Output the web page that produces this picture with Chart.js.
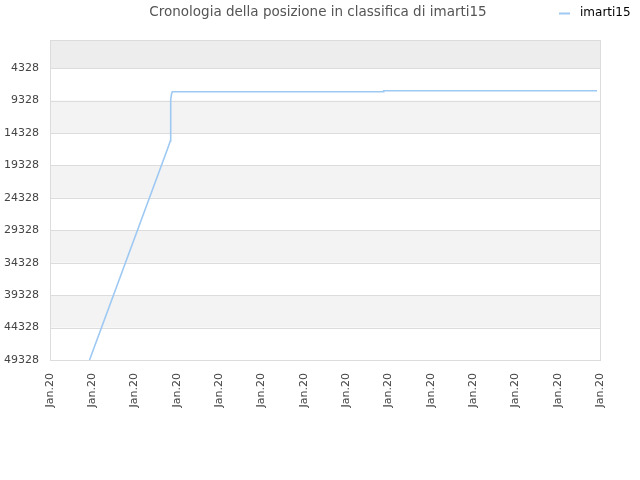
<!DOCTYPE html>
<html>
<head>
<meta charset="utf-8">
<script src="https://cdn.jsdelivr.net/npm/chart.js@4/dist/chart.umd.min.js"></script>
<style>
    html, body { margin: 0; padding: 0; background: #ffffff; }
    #wrap { width: 640px; height: 480px; }
</style>
</head>
<body>
<div id="wrap"><canvas id="chart" width="640" height="480"></canvas></div>
<script>
const chartTitle = 'Cronologia della posizione in classifica di imarti15';
const seriesName = 'imarti15';

// x-axis categories (one per tick, 0..13)
const xLabels = ['Jan.20', 'Jan.20', 'Jan.20', 'Jan.20', 'Jan.20', 'Jan.20', 'Jan.20',
    'Jan.20', 'Jan.20', 'Jan.20', 'Jan.20', 'Jan.20', 'Jan.20', 'Jan.20'];

// rank ticks on the reversed y axis
const yTicks = [4328, 9328, 14328, 19328, 24328, 29328, 34328, 39328, 44328, 49328];
const yMin = 1;
const yMax = 49328;

// positions (x in tick units)
const pointX = [0.934, 2.777, 2.843, 2.853, 2.872, 2.891, 7.878, 7.888, 12.929];
const pointRank = [49328, 16803, 15570, 9250, 8325, 7986, 7986, 7816, 7816];

const lineColor = '#9ec9f3';

const bandsPlugin = {
    id: 'bands',
    beforeDatasetsDraw(chart) {
        const { ctx, chartArea } = chart;
        const y = chart.scales.y;
        ctx.save();
        // area above the first tick
        ctx.fillStyle = '#ededed';
        const firstPx = y.getPixelForValue(yTicks[0]);
        ctx.fillRect(chartArea.left, chartArea.top, chartArea.right - chartArea.left, firstPx - chartArea.top);
        for (let i = 0; i < yTicks.length - 1; i++) {
            if (i % 2 === 1) {
                const top = y.getPixelForValue(yTicks[i]);
                const bottom = y.getPixelForValue(yTicks[i + 1]);
                ctx.fillStyle = '#f3f3f3';
                ctx.fillRect(chartArea.left, top, chartArea.right - chartArea.left, bottom - top);
            }
        }
        // horizontal grid lines
        ctx.strokeStyle = '#dcdcdc';
        ctx.lineWidth = 1;
        yTicks.forEach((value) => {
            const py = Math.round(y.getPixelForValue(value)) + 0.5;
            ctx.beginPath();
            ctx.moveTo(chartArea.left, py);
            ctx.lineTo(chartArea.right, py);
            ctx.stroke();
        });
        ctx.strokeRect(Math.round(chartArea.left) + 0.5, Math.round(chartArea.top) + 0.5,
            Math.round(chartArea.right - chartArea.left), Math.round(chartArea.bottom - chartArea.top));
        ctx.restore();
    },
};

const headerPlugin = {
    id: 'header',
    afterDraw(chart) {
        const { ctx } = chart;
        ctx.save();
        ctx.font = '13.5px "DejaVu Sans"';
        ctx.fillStyle = '#555555';
        ctx.textAlign = 'center';
        ctx.textBaseline = 'middle';
        ctx.fillText(chartTitle, 318, 12);

        ctx.strokeStyle = lineColor;
        ctx.lineWidth = 2;
        ctx.beginPath();
        ctx.moveTo(559, 13.5);
        ctx.lineTo(570, 13.5);
        ctx.stroke();

        ctx.font = '12px "DejaVu Sans"';
        ctx.fillStyle = '#000000';
        ctx.textAlign = 'left';
        ctx.fillText(seriesName, 580, 13);
        ctx.restore();
    },
};

const data = pointX.map((x, i) => ({ x, y: pointRank[i] }));

new Chart(document.getElementById('chart'), {
    type: 'line',
    data: {
        datasets: [
            {
                label: seriesName,
                data,
                borderColor: lineColor,
                borderWidth: 1.6,
                pointRadius: 0,
                tension: 0,
                fill: false,
            },
        ],
    },
    options: {
        responsive: false,
        animation: false,
        layout: {
            padding: { top: 40, right: 40, left: 0, bottom: 0 },
        },
        plugins: {
            legend: { display: false },
            title: { display: false },
            tooltip: { enabled: false },
        },
        scales: {
            x: {
                type: 'linear',
                min: 0,
                max: xLabels.length - 1,
                afterBuildTicks(scale) {
                    scale.ticks = xLabels.map((_, i) => ({ value: i }));
                },
                afterFit(scale) {
                    scale.height = 120;
                },
                grid: { display: false, drawTicks: false },
                border: { display: false },
                ticks: {
                    autoSkip: false,
                    minRotation: 90,
                    maxRotation: 90,
                    padding: 13,
                    color: '#444444',
                    font: { family: '"DejaVu Sans"', size: 11 },
                    callback(value) {
                        return xLabels[Math.round(value)];
                    },
                },
            },
            y: {
                type: 'linear',
                reverse: true,
                min: yMin,
                max: yMax,
                afterBuildTicks(scale) {
                    scale.ticks = yTicks.map((value) => ({ value }));
                },
                afterFit(scale) {
                    scale.width = 50;
                },
                grid: { display: false, drawTicks: false },
                border: { display: false },
                ticks: {
                    padding: 11,
                    color: '#444444',
                    font: { family: '"DejaVu Sans"', size: 11 },
                    callback(value) {
                        return String(value);
                    },
                },
            },
        },
    },
    plugins: [bandsPlugin, headerPlugin],
});
</script>
</body>
</html>
